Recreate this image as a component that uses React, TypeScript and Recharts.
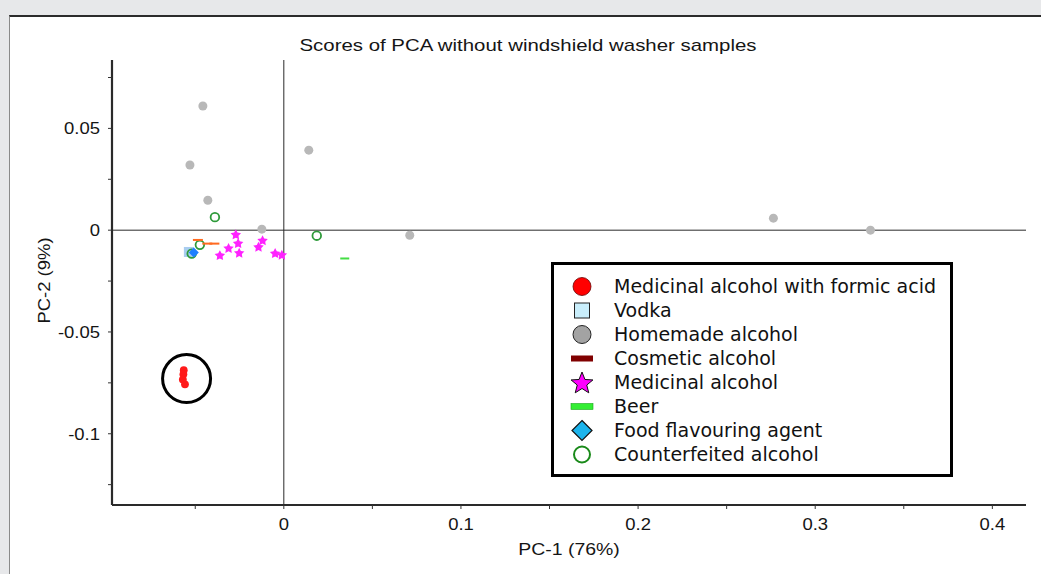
import React from 'react'
import { ScatterChart, Scatter, XAxis, YAxis, ReferenceLine, ReferenceDot, Legend, Label } from 'recharts'

// PCA scores
const formicAcid = [
  { x: -0.0565, y: -0.0688 },
  { x: -0.0567, y: -0.0708 },
  { x: -0.057, y: -0.0734 },
  { x: -0.0558, y: -0.0757 },
]
const vodka = [{ x: -0.0536, y: -0.0107 }]
const homemade = [
  { x: -0.0457, y: 0.061 },
  { x: -0.053, y: 0.032 },
  { x: -0.0429, y: 0.0147 },
  { x: 0.0141, y: 0.0393 },
  { x: -0.0124, y: 0.0005 },
  { x: 0.0711, y: -0.0025 },
  { x: 0.2764, y: 0.0059 },
  { x: 0.3312, y: 0.0 },
]
const cosmetic = [
  { x: -0.0485, y: -0.0048 },
  { x: -0.0432, y: -0.0066 },
  { x: -0.0392, y: -0.0066 },
]
const medicinal = [
  { x: -0.0271, y: -0.0023 },
  { x: -0.0258, y: -0.0066 },
  { x: -0.0312, y: -0.009 },
  { x: -0.0252, y: -0.0113 },
  { x: -0.0361, y: -0.0125 },
  { x: -0.012, y: -0.0052 },
  { x: -0.0143, y: -0.0084 },
  { x: -0.0049, y: -0.0115 },
  { x: -0.0011, y: -0.0123 },
]
const beer = [{ x: 0.0344, y: -0.0139 }]
const flavouring = [{ x: -0.0508, y: -0.011 }]
const counterfeit = [
  { x: -0.0389, y: 0.0064 },
  { x: 0.0186, y: -0.0027 },
  { x: -0.0474, y: -0.0072 },
  { x: -0.052, y: -0.0115 },
]

// circled group in the lower left
const highlight = { x: -0.0549, y: -0.0729 }

const xTicks = [-0.05, 0, 0.05, 0.1, 0.15, 0.2, 0.25, 0.3, 0.35, 0.4]
const yTicks = [-0.125, -0.1, -0.075, -0.05, -0.025, 0, 0.025, 0.05, 0.075]
const xDomain = [-0.097, 0.419]
const yDomain = [-0.135, 0.0836]

const legendNames = [
  'Medicinal alcohol with formic acid',
  'Vodka',
  'Homemade alcohol',
  'Cosmetic alcohol',
  'Medicinal alcohol',
  'Beer',
  'Food flavouring agent',
  'Counterfeited alcohol',
]

const FONT = '"Liberation Sans", Arial, sans-serif'
const INK = '#151515'

const starPoints = (cx: number, cy: number, R: number, r: number) => {
  const pts: string[] = []
  for (let i = 0; i < 10; i++) {
    const rad = i % 2 === 0 ? R : r
    const a = -Math.PI / 2 + (i * Math.PI) / 5
    pts.push(`${cx + rad * Math.cos(a)},${cy + rad * Math.sin(a)}`)
  }
  return pts.join(' ')
}

const isMultiple = (v: number, step: number) => Math.abs(v / step - Math.round(v / step)) < 1e-6

function XTick({ x, y, payload }: any) {
  const v = payload.value
  if (!isMultiple(v, 0.1)) return null
  return (
    <g transform={`translate(${x},${y})`}>
      <text transform="scale(1.12,1)" textAnchor="middle" dy="0.8em" fontSize={16.5} fontFamily={FONT} fill={INK}>
        {String(Number(v.toFixed(3)))}
      </text>
    </g>
  )
}

function YTick({ x, y, payload }: any) {
  const v = payload.value
  if (!isMultiple(v, 0.05)) return null
  return (
    <g transform={`translate(${x},${y})`}>
      <text transform="scale(1.12,1)" textAnchor="end" dy="0.36em" fontSize={16.5} fontFamily={FONT} fill={INK}>
        {String(Number(v.toFixed(3)))}
      </text>
    </g>
  )
}

const dot = (fill: string, r: number) => (p: any) => <circle cx={p.cx} cy={p.cy} r={r} fill={fill} />

function LegendIcon({ i, cx, cy }: { i: number; cx: number; cy: number }) {
  switch (i) {
    case 0:
      return <circle cx={cx} cy={cy} r={9} fill="#ff0000" stroke="#600" strokeWidth={0.8} />
    case 1:
      return <rect x={cx - 7.5} y={cy - 7.5} width={15} height={15} fill="#c9eefb" stroke="#222" strokeWidth={1} />
    case 2:
      return <circle cx={cx} cy={cy} r={9} fill="#a3a3a3" stroke="#222" strokeWidth={1} />
    case 3:
      return <rect x={cx - 11} y={cy - 3} width={22} height={6} fill="#800000" />
    case 4:
      return <polygon points={starPoints(cx, cy + 1, 11.5, 5)} fill="#ff00ff" stroke="#111" strokeWidth={1} />
    case 5:
      return <rect x={cx - 11} y={cy - 3} width={22} height={6} fill="#33ee33" stroke="#1aa51a" strokeWidth={0.6} />
    case 6:
      return (
        <polygon
          points={`${cx},${cy - 10} ${cx + 10},${cy} ${cx},${cy + 10} ${cx - 10},${cy}`}
          fill="#1cb4ec"
          stroke="#111"
          strokeWidth={1.2}
        />
      )
    default:
      return <circle cx={cx} cy={cy} r={8} fill="#fff" stroke="#1a8a1a" strokeWidth={2} />
  }
}

function LegendBox() {
  return (
    <div
      style={{
        width: 402,
        height: 215,
        boxSizing: 'border-box',
        border: '3px solid #000',
        background: '#fff',
      }}
    >
      <svg width={396} height={209} style={{ display: 'block' }}>
        {legendNames.map((name, i) => {
          const cy = 21.5 + i * 24
          return (
            <g key={name}>
              <LegendIcon i={i} cx={28} cy={cy} />
              <text x={60} y={cy} dy="0.36em" fontSize={19} fontFamily='"DejaVu Sans", Verdana, sans-serif' fill="#111">
                {name}
              </text>
            </g>
          )
        })}
      </svg>
    </div>
  )
}

export default function App() {
  return (
    <div style={{ position: 'absolute', left: 0, top: 0, width: 1041, height: 574, background: '#e7e8ea', overflow: 'hidden' }}>
      <div
        style={{
          position: 'absolute',
          left: 9,
          top: 15,
          right: 0,
          bottom: 0,
          background: '#fff',
          borderTop: '2px solid #2b2b2b',
          borderLeft: '1px solid #8a8a8a',
        }}
      />
      <div style={{ position: 'absolute', left: 0, top: 0 }}>
        <ScatterChart width={1041} height={574} margin={{ top: 60, right: 15, bottom: 39, left: 52 }}>
          <XAxis
            type="number"
            dataKey="x"
            domain={xDomain}
            ticks={xTicks}
            allowDataOverflow
            height={30}
            tickSize={4}
            tickMargin={8}
            axisLine={{ stroke: '#2a2a2a', strokeWidth: 2.2 }}
            tickLine={{ stroke: '#333' }}
            tick={<XTick />}
          >
            <Label
              content={(props: any) => {
                const vb = props.viewBox
                return (
                  <g transform={`translate(${vb.x + vb.width / 2},${vb.y + 44})`}>
                    <text transform="scale(1.18,1)" textAnchor="middle" dy="0.36em" fontSize={16.5} fontFamily={FONT} fill={INK}>
                      PC-1 (76%)
                    </text>
                  </g>
                )
              }}
            />
          </XAxis>
          <YAxis
            type="number"
            dataKey="y"
            domain={yDomain}
            ticks={yTicks}
            allowDataOverflow
            width={60}
            tickSize={4}
            tickMargin={8}
            axisLine={{ stroke: '#2a2a2a', strokeWidth: 2.2 }}
            tickLine={{ stroke: '#333' }}
            tick={<YTick />}
          >
            <Label
              content={(props: any) => {
                const vb = props.viewBox
                return (
                  <g transform={`translate(${vb.x + vb.width - 68},${vb.y + vb.height / 2 - 2}) rotate(-90)`}>
                    <text transform="scale(1.12,1)" textAnchor="middle" dy="0.36em" fontSize={16.5} fontFamily={FONT} fill={INK}>
                      PC-2 (9%)
                    </text>
                  </g>
                )
              }}
            />
          </YAxis>
          <ReferenceLine x={0} stroke="#2a2a2a" strokeWidth={1} />
          <ReferenceLine y={0} stroke="#2a2a2a" strokeWidth={1} />

          <Scatter name="Homemade alcohol" data={homemade} isAnimationActive={false} shape={dot('#b8b8b8', 4.5)} />
          <Scatter
            name="Vodka"
            data={vodka}
            isAnimationActive={false}
            shape={(p: any) => <rect x={p.cx - 5} y={p.cy - 5} width={10} height={10} fill="#a9cdf0" />}
          />
          <Scatter
            name="Counterfeited alcohol"
            data={counterfeit}
            isAnimationActive={false}
            shape={(p: any) => <circle cx={p.cx} cy={p.cy} r={4.3} fill="none" stroke="#2e9a3a" strokeWidth={1.8} />}
          />
          <Scatter
            name="Medicinal alcohol"
            data={medicinal}
            isAnimationActive={false}
            shape={(p: any) => <polygon points={starPoints(p.cx, p.cy, 5.5, 2.8)} fill="#ff22ff" />}
          />
          <Scatter
            name="Cosmetic alcohol"
            data={cosmetic}
            isAnimationActive={false}
            shape={(p: any) => <rect x={p.cx - 5} y={p.cy - 1} width={10} height={2} fill="#ff6a20" />}
          />
          <Scatter
            name="Beer"
            data={beer}
            isAnimationActive={false}
            shape={(p: any) => <rect x={p.cx - 4.5} y={p.cy - 1} width={9} height={2} fill="#44dd44" />}
          />
          <Scatter
            name="Food flavouring agent"
            data={flavouring}
            isAnimationActive={false}
            shape={(p: any) => (
              <polygon points={`${p.cx},${p.cy - 5} ${p.cx + 5},${p.cy} ${p.cx},${p.cy + 5} ${p.cx - 5},${p.cy}`} fill="#1f7fff" />
            )}
          />
          <Scatter name="Medicinal alcohol with formic acid" data={formicAcid} isAnimationActive={false} shape={dot('#ff1a1a', 3.9)} />

          <ReferenceDot x={highlight.x} y={highlight.y} r={24} fill="none" stroke="#000" strokeWidth={3} />

          <Legend
            layout="vertical"
            align="center"
            verticalAlign="middle"
            wrapperStyle={{ position: 'absolute', left: 551, top: 262, width: 402, height: 215 }}
            content={() => <LegendBox />}
          />
        </ScatterChart>
      </div>
      <div
        style={{
          position: 'absolute',
          left: 0,
          width: 1056,
          top: 36,
          textAlign: 'center',
          fontFamily: FONT,
          fontSize: 17,
          color: INK,
          transform: 'scaleX(1.2)',
          transformOrigin: '528px 0',
          lineHeight: '20px',
        }}
      >
        Scores of PCA without windshield washer samples
      </div>
    </div>
  )
}
